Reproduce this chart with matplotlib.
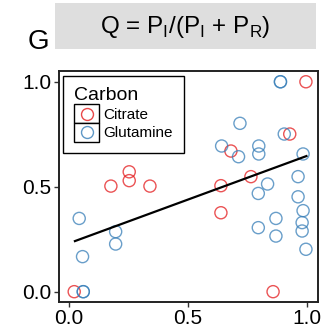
import numpy as np
import matplotlib
matplotlib.use("Agg")
import matplotlib.pyplot as plt
from matplotlib.patches import Rectangle
from matplotlib.lines import Line2D
from matplotlib.legend_handler import HandlerBase

plt.rcParams['font.family'] = ['Liberation Sans', 'DejaVu Sans']
plt.rcParams['mathtext.fontset'] = 'custom'
plt.rcParams['mathtext.rm'] = 'Liberation Sans'

# data
citrate_x = [0.995, 0.927, 0.680, 0.176, 0.253, 0.253, 0.340, 0.638, 0.764, 0.638, 0.022, 0.857]
citrate_y = [1.000, 0.751, 0.670, 0.503, 0.571, 0.529, 0.503, 0.505, 0.548, 0.376, 0.000, 0.000]

glut_x = [0.888, 0.888, 0.718, 0.904, 0.641, 0.712, 0.797, 0.797, 0.983, 0.834, 0.795, 0.962,
          0.962, 0.043, 0.196, 0.196, 0.057, 0.869, 0.795, 0.869, 0.983, 0.979, 0.979, 0.995,
          0.060, 0.060]
glut_y = [1.000, 1.000, 0.802, 0.751, 0.694, 0.643, 0.694, 0.656, 0.656, 0.513, 0.468, 0.548,
          0.452, 0.349, 0.286, 0.227, 0.167, 0.349, 0.305, 0.265, 0.386, 0.329, 0.289, 0.202,
          0.000, 0.000]

# linear trend as drawn in the figure (end points)
trend_x = [0.025, 0.997]
trend_y = [0.241, 0.646]

red = '#E41A1C'
blue = '#377EB8'


class BoxedMarker(HandlerBase):
    # legend key with a black box round the open circle
    def __init__(self, color):
        super().__init__()
        self.color = color

    def create_artists(self, legend, orig_handle, xdescent, ydescent, width, height, fontsize, trans):
        box = Rectangle((-xdescent, -ydescent), width, height, facecolor='white',
                        edgecolor='black', lw=1.0, transform=trans)
        m = Line2D([width / 2 - xdescent], [height / 2 - ydescent], marker='o', ms=8.6,
                   mfc='none', mec=self.color, mew=1.0, alpha=0.8, ls='none', transform=trans)
        return [box, m]


fig = plt.figure(figsize=(3.24, 3.28), dpi=100)
ax = fig.add_axes([0.182, 0.080, 0.799, 0.704])

ax.scatter(citrate_x, citrate_y, s=76, facecolors='none', edgecolors=red, linewidths=1.0, alpha=0.75)
ax.scatter(glut_x, glut_y, s=76, facecolors='none', edgecolors=blue, linewidths=1.0, alpha=0.75)

ax.plot(trend_x, trend_y, color='black', lw=1.6)

ax.set_xlim(-0.042, 1.045)
ax.set_ylim(-0.048, 1.052)
ax.set_xticks([0.0, 0.5, 1.0])
ax.set_yticks([0.0, 0.5, 1.0])
ax.set_xticklabels(['0.0', '0.5', '1.0'])
ax.set_yticklabels(['0.0', '0.5', '1.0'])
ax.tick_params(labelsize=15, length=3.5, width=1, pad=2, color='#333333')
for sp in ax.spines.values():
    sp.set_linewidth(1.4)
    sp.set_color('#222222')

h1 = Line2D([], [], label='Citrate')
h2 = Line2D([], [], label='Glutamine')
leg = ax.legend([h1, h2], ['Citrate', 'Glutamine'], title='Carbon', loc='upper left',
                bbox_to_anchor=(0.015, 0.978), borderaxespad=0, fontsize=11,
                title_fontsize=14, fancybox=False, edgecolor='black', framealpha=1,
                handler_map={h1: BoxedMarker(red), h2: BoxedMarker(blue)},
                handlelength=1.64, handleheight=1.5, handletextpad=0.25, labelspacing=0,
                borderpad=0.75)
leg._legend_box.align = 'left'
leg.get_frame().set_linewidth(1.0)

# strip title and panel letter
fig.patches.append(Rectangle((55 / 324, 1 - 49 / 328), 261 / 324, 46 / 328,
                             transform=fig.transFigure, facecolor='#dedede', edgecolor='none'))
fig.text(185 / 324, 1 - 27 / 328, r'Q = P$_\mathrm{I}$/(P$_\mathrm{I}$ + P$_\mathrm{R}$)',
         ha='center', va='center', fontsize=17.5)
fig.text(38 / 324, 1 - 42 / 328, 'G', ha='center', va='center', fontsize=20)

fig.savefig('out.png', dpi=100)
